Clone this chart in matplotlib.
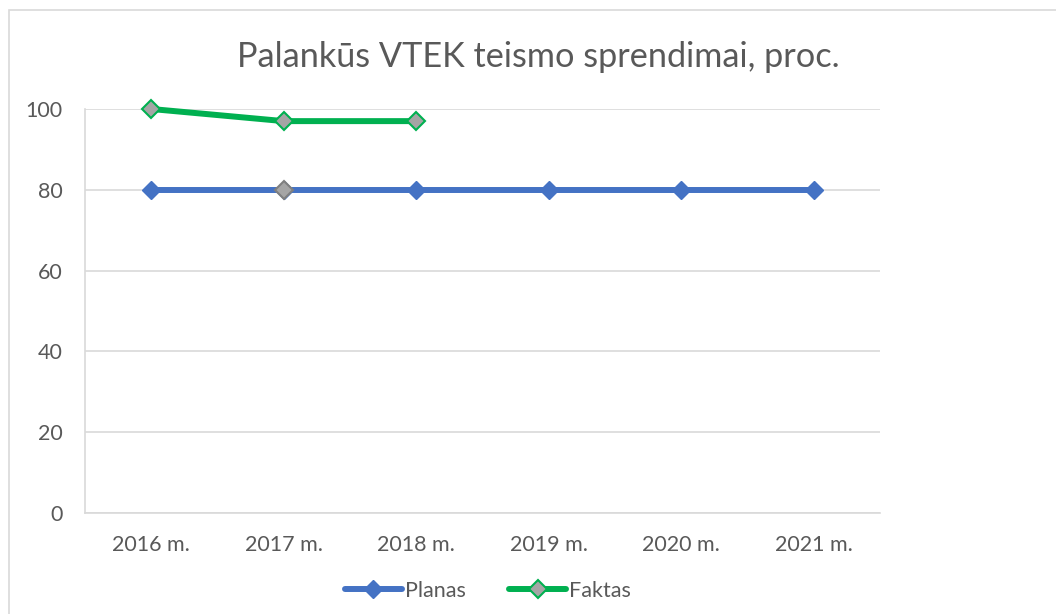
import matplotlib
matplotlib.use("Agg")
import matplotlib.pyplot as plt
from matplotlib.patches import Rectangle

plt.rcParams['font.family'] = ['Lato', 'DejaVu Sans']

categories = ["2016 m.", "2017 m.", "2018 m.", "2019 m.", "2020 m.", "2021 m."]
planas = [80, 80, 80, 80, 80, 80]
faktas = [100, 97, 97]
title = "Palankūs VTEK teismo sprendimai, proc."
yticks = [0, 20, 40, 60, 80, 100]

txt = "#595959"
blue = "#4472C4"
green = "#00B050"
gray = "#A5A5A5"

fig = plt.figure(figsize=(10.56, 6.14), dpi=100)
fig.patch.set_facecolor("white")
ax = fig.add_axes([85/1056, 1-513/614, (880-85)/1056, (513-109)/614])

x = list(range(len(categories)))
ax.plot(x, planas, color=blue, lw=4.3, marker='D', ms=9.5, mfc=blue, mec=blue,
        solid_capstyle='round', label="Planas", zorder=3, clip_on=False)
# specially formatted point
ax.plot([x[1]], [planas[1]], ls='none', marker='D', ms=9.5, mfc=gray, mec="#7F7F7F",
        mew=1.5, zorder=4, clip_on=False)
ax.plot(x[:len(faktas)], faktas, color=green, lw=4.3, marker='D', ms=9.5, mfc=gray,
        mec=green, mew=1.5, solid_capstyle='round', label="Faktas", zorder=5, clip_on=False)

ax.set_xlim(-0.5, len(categories) - 0.5)
ax.set_ylim(0, 100)
ax.set_yticks(yticks)
ax.set_xticks(x)
ax.set_xticklabels(categories)
ax.grid(axis='y', color="#D9D9D9", lw=1.2, zorder=0)
ax.set_axisbelow(True)
for s in ['top', 'right']:
    ax.spines[s].set_visible(False)
for s in ['left', 'bottom']:
    ax.spines[s].set_color("#D9D9D9")
    ax.spines[s].set_linewidth(1.2)
ax.tick_params(axis='both', length=0, labelsize=15.5, labelcolor=txt)
ax.tick_params(axis='y', pad=16)
ax.tick_params(axis='x', pad=16)

fig.text(538/1056, 1-57/614, title, ha='center', va='center', fontsize=24.7, color=txt)

leg = fig.legend(loc='center', bbox_to_anchor=(488/1056, 1-591/614), ncol=2, frameon=False,
                 fontsize=15.5, labelcolor=txt, handlelength=2.65, handletextpad=0.15,
                 columnspacing=2.0)

fig.patches.append(Rectangle((9/1056, -0.1), 1.2, 1 - 10/614 + 0.1, transform=fig.transFigure,
                             fill=False, edgecolor="#D9D9D9", lw=1.2))

fig.savefig("out.png", dpi=100, facecolor="white")
